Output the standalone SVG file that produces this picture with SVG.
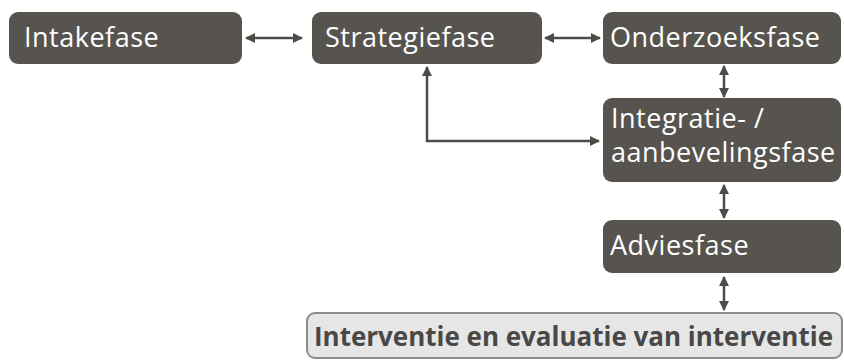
<svg xmlns="http://www.w3.org/2000/svg" width="844" height="361" viewBox="0 0 844 361">
<defs>
<style>
.box{fill:#57544f;}
.lbl{fill:#ffffff;font-family:"Open Sans","DejaVu Sans",sans-serif;font-size:27px;letter-spacing:0.5px;}
.edge{fill:none;stroke:#4f4c48;stroke-width:2.5;}
</style>
<marker id="ah" viewBox="0 0 10 10" refX="9" refY="5" markerWidth="4" markerHeight="4" orient="auto-start-reverse" markerUnits="strokeWidth">
<path d="M0,0 L10,5 L0,10 z" fill="#4f4c48"/>
</marker>
</defs>
<rect width="844" height="361" fill="#ffffff"/>
<g id="intakefase">
<rect class="box" x="9" y="12" width="233" height="52" rx="9"/>
<text class="lbl" x="24" y="47">Intakefase</text>
</g>
<g id="strategiefase">
<rect class="box" x="312" y="12" width="230" height="52" rx="9"/>
<text class="lbl" x="325" y="47">Strategiefase</text>
</g>
<g id="onderzoeksfase">
<rect class="box" x="603" y="12" width="238" height="52" rx="9"/>
<text class="lbl" x="610" y="47">Onderzoeksfase</text>
</g>
<g id="integratie">
<rect class="box" x="603" y="98" width="238" height="84" rx="9"/>
<text class="lbl" x="611" y="128">Integratie- /</text>
<text class="lbl" x="611" y="162">aanbevelingsfase</text>
</g>
<g id="adviesfase">
<rect class="box" x="603" y="220" width="238" height="53" rx="9"/>
<text class="lbl" x="610" y="255">Adviesfase</text>
</g>
<g id="interventie">
<rect x="307" y="313" width="535" height="45" rx="8" fill="#e6e6e6" stroke="#8c8c8c" stroke-width="2"/>
<text x="314" y="346" fill="#4a4846" font-family="'Open Sans','DejaVu Sans',sans-serif" font-size="26" font-weight="700" textLength="519" lengthAdjust="spacingAndGlyphs">Interventie en evaluatie van interventie</text>
</g>
<g id="connectors">
<line class="edge" x1="246" y1="38" x2="302" y2="38" marker-start="url(#ah)" marker-end="url(#ah)"/>
<line class="edge" x1="545" y1="38" x2="600" y2="38" marker-start="url(#ah)" marker-end="url(#ah)"/>
<line class="edge" x1="724" y1="66" x2="724" y2="97" marker-start="url(#ah)" marker-end="url(#ah)"/>
<polyline class="edge" points="427,67 427,141 599,141" marker-start="url(#ah)" marker-end="url(#ah)"/>
<line class="edge" x1="724" y1="185" x2="724" y2="218" marker-start="url(#ah)" marker-end="url(#ah)"/>
<line class="edge" x1="724" y1="277" x2="724" y2="310" marker-start="url(#ah)" marker-end="url(#ah)"/>
</g>
</svg>
